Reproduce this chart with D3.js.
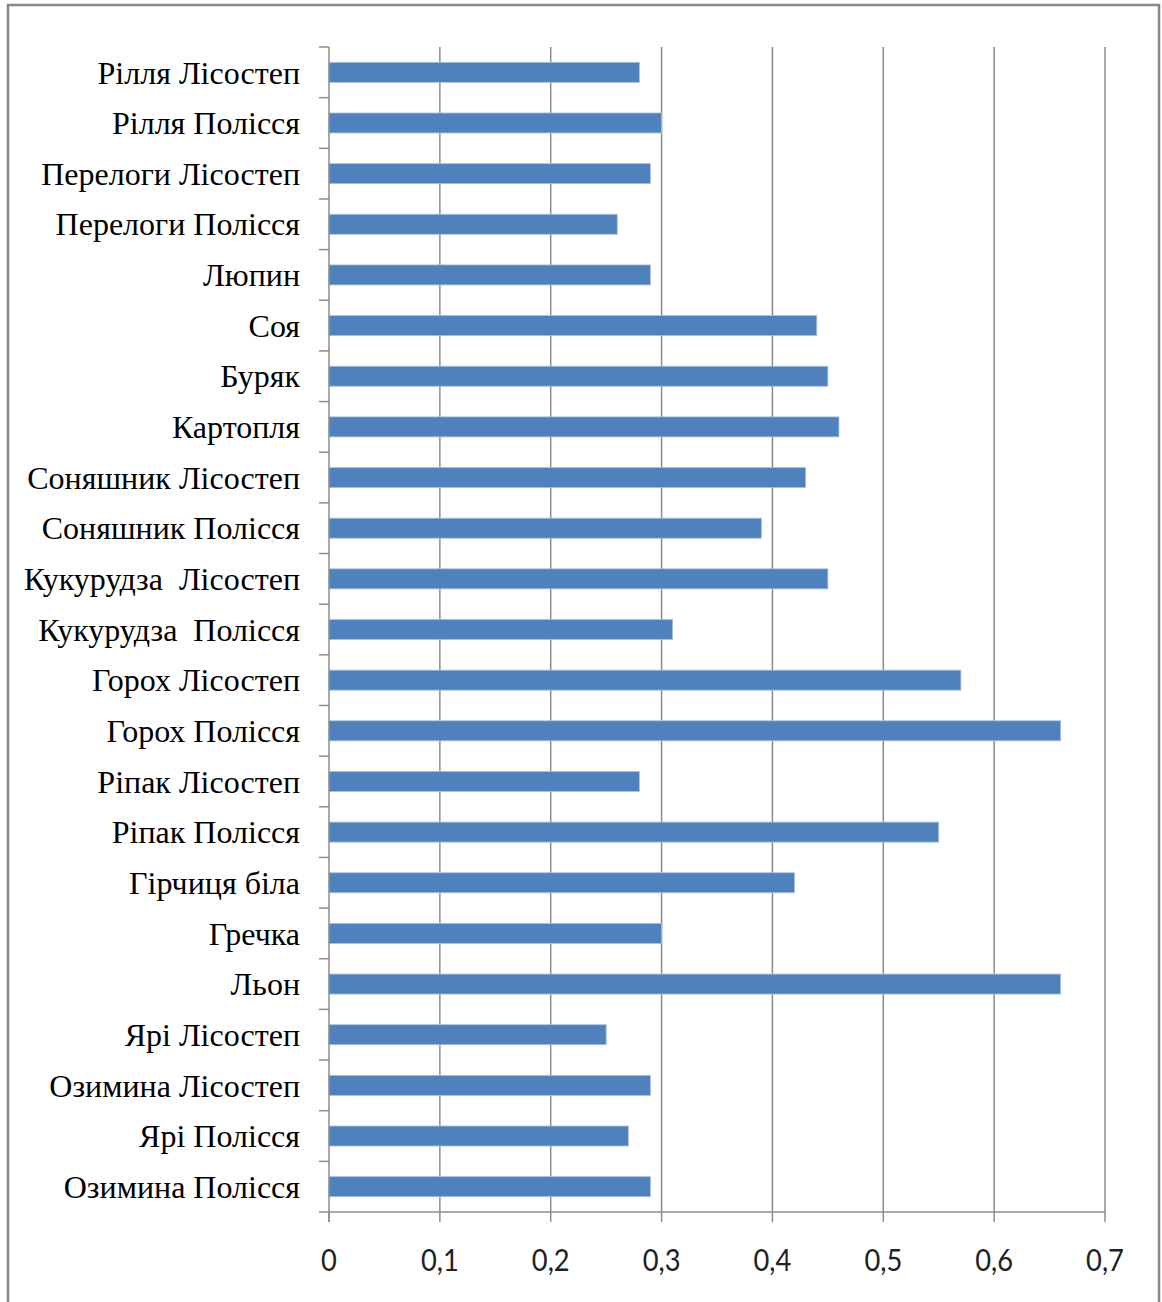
<!DOCTYPE html>
<html>
<head>
<meta charset="utf-8">
<script src="https://cdn.jsdelivr.net/npm/d3@7"></script>
<style>
  html, body { margin: 0; padding: 0; background: #fff; }
  svg text { white-space: pre; }
</style>
</head>
<body>
<svg id="chart" width="1162" height="1302"></svg>
<script>
// Crop categories, listed top to bottom
const categories = [
  "Рілля Лісостеп", "Рілля Полісся", "Перелоги Лісостеп", "Перелоги Полісся",
  "Люпин", "Соя", "Буряк", "Картопля", "Соняшник Лісостеп", "Соняшник Полісся",
  "Кукурудза  Лісостеп", "Кукурудза  Полісся", "Горох Лісостеп", "Горох Полісся",
  "Ріпак Лісостеп", "Ріпак Полісся", "Гірчиця біла", "Гречка", "Льон",
  "Ярі Лісостеп", "Озимина Лісостеп", "Ярі Полісся", "Озимина Полісся"
];
const values = [
  0.28, 0.30, 0.29, 0.26,
  0.29, 0.44, 0.45, 0.46, 0.43, 0.39,
  0.45, 0.31, 0.57, 0.66,
  0.28, 0.55, 0.42, 0.30, 0.66,
  0.25, 0.29, 0.27, 0.29
];
const tickValues = [0, 0.1, 0.2, 0.3, 0.4, 0.5, 0.6, 0.7];
const tickLabels = ["0", "0,1", "0,2", "0,3", "0,4", "0,5", "0,6", "0,7"];

const svg = d3.select("#chart");
const plot = { left: 329, right: 1105, top: 47, bottom: 1212 };

// outer frame
svg.append("rect")
  .attr("x", 8).attr("y", 5)
  .attr("width", 1151).attr("height", 1310)
  .attr("fill", "none").attr("stroke", "#878787").attr("stroke-width", 2.5);

const x = d3.scaleLinear().domain([0, 0.7]).range([plot.left, plot.right]);
const y = d3.scaleBand().domain(categories).range([plot.top, plot.bottom]);
const barH = 20;

const grid = "#8c8c8c";

// vertical gridlines
svg.append("g").selectAll("line").data(tickValues.slice(1)).join("line")
  .attr("x1", d => x(d)).attr("x2", d => x(d))
  .attr("y1", plot.top).attr("y2", plot.bottom)
  .attr("stroke", grid).attr("stroke-width", 1.5);

// bars
svg.append("g").selectAll("rect").data(categories).join("rect")
  .attr("x", x(0))
  .attr("y", d => y(d) + y.bandwidth() / 2 - barH / 2)
  .attr("width", (d, i) => x(values[i]) - x(0))
  .attr("height", barH)
  .attr("fill", "#4f81bd")
  .attr("stroke", "#a9c1e0").attr("stroke-width", 0.8);

// category axis (left)
const gy = svg.append("g");
gy.append("line")
  .attr("x1", plot.left).attr("x2", plot.left)
  .attr("y1", plot.top).attr("y2", plot.bottom + 10)
  .attr("stroke", grid).attr("stroke-width", 1.5);
const catTicks = categories.map(c => y(c)).concat([plot.bottom]);
gy.selectAll("line.tk").data(catTicks).join("line").attr("class", "tk")
  .attr("x1", plot.left - 10).attr("x2", plot.left)
  .attr("y1", d => d).attr("y2", d => d)
  .attr("stroke", grid).attr("stroke-width", 1.5);

gy.selectAll("text").data(categories).join("text")
  .attr("x", 300)
  .attr("y", d => y(d) + y.bandwidth() / 2)
  .attr("text-anchor", "end")
  .attr("dy", "0.35em")
  .attr("font-family", "'Liberation Serif', 'Times New Roman', serif")
  .attr("font-size", 32)
  .attr("fill", "#000")
  .text(d => d);

// value axis (bottom)
const gx = svg.append("g");
gx.append("line")
  .attr("x1", plot.left).attr("x2", plot.right)
  .attr("y1", plot.bottom).attr("y2", plot.bottom)
  .attr("stroke", grid).attr("stroke-width", 1.5);
gx.selectAll("line.tk").data(tickValues).join("line").attr("class", "tk")
  .attr("x1", d => x(d)).attr("x2", d => x(d))
  .attr("y1", plot.bottom).attr("y2", plot.bottom + 10)
  .attr("stroke", grid).attr("stroke-width", 1.5);
gx.selectAll("g.tl").data(tickValues).join("g").attr("class", "tl")
  .attr("transform", d => `translate(${x(d)}, 1260) scale(0.88, 1)`)
  .append("text")
  .attr("text-anchor", "middle")
  .attr("dy", "0.35em")
  .attr("font-family", "Lato, 'Open Sans', sans-serif")
  .attr("font-size", 31)
  .attr("fill", "#222")
  .text((d, i) => tickLabels[i]);
</script>
</body>
</html>
